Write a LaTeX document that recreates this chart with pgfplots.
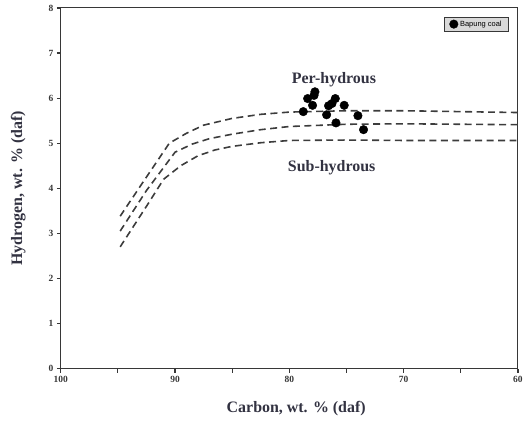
\documentclass[border=0pt]{standalone}
\usepackage{fontspec}
\setmainfont{Liberation Serif}
\newfontfamily\legfont{Liberation Sans}
\usepackage{pgfplots}
\pgfplotsset{compat=1.18}
\definecolor{framec}{RGB}{55,55,55}
\definecolor{dashc}{RGB}{60,60,60}
\definecolor{txtc}{RGB}{50,50,65}

\begin{document}
\begin{tikzpicture}
\begin{axis}[
    scale only axis,
    width=459pt, height=362pt,
    x dir=reverse,
    xmin=60, xmax=100, ymin=0, ymax=8,
    xtick={60,70,80,90,100},
    minor xtick={65,75,85,95},
    ytick={0,1,2,3,4,5,6,7,8},
    tick align=outside,
    xtick pos=bottom, ytick pos=left,
    major tick length=4pt, minor tick length=4pt,
    tick style={framec, line width=1.2pt},
    axis line style={framec, line width=1pt},
    /pgf/number format/assume math mode=true,
    ticklabel style={font=\fontsize{9.5}{10}\selectfont\bfseries, text=framec},
    xlabel={Carbon, wt. \% (daf)},
    ylabel={Hydrogen, wt. \% (daf)},
    label style={font=\fontsize{16}{18}\selectfont\bfseries, text=txtc},
    xlabel style={at={(axis description cs:0.515,-0.11)}, anchor=center},
    ylabel style={at={(axis description cs:-0.093,0.5)}, anchor=center},
    clip=false,
    legend style={at={(0.98,0.975)}, anchor=north east, fill=gray!30,
        draw=framec, font=\legfont\fontsize{7.5}{8}\selectfont,
        inner xsep=5pt, inner ysep=1.5pt},
    legend cell align=left,
]

% per-hydrous boundary (top)
\addplot[draw=dashc, line width=1.6pt, dash pattern=on 7pt off 4.5pt, forget plot]
    coordinates {(94.8,3.38)(92.5,4.25)(90.5,5.0)(89,5.22)(87.5,5.40)(85,5.55)
    (82.5,5.64)(80,5.69)(75,5.72)(70,5.72)(65,5.70)(60,5.68)};
% middle line
\addplot[draw=dashc, line width=1.6pt, dash pattern=on 7pt off 4.5pt, forget plot]
    coordinates {(94.8,3.05)(92.5,3.95)(90,4.8)(88.5,4.98)(87,5.1)(85,5.2)
    (82.5,5.3)(80,5.37)(75,5.42)(70,5.43)(65,5.42)(60,5.41)};
% sub-hydrous boundary (bottom)
\addplot[draw=dashc, line width=1.6pt, dash pattern=on 7pt off 4.5pt, forget plot]
    coordinates {(94.8,2.70)(92.5,3.6)(91,4.2)(89.5,4.5)(88,4.72)(86.5,4.85)
    (85,4.93)(82.5,5.01)(80,5.06)(75,5.07)(70,5.06)(60,5.06)};

\addplot[only marks, mark=*, mark size=4.3pt, black]
    coordinates {(77.76,6.14)(77.84,6.06)(78.4,5.99)(77.97,5.84)(78.78,5.70)
    (76.74,5.63)(76.57,5.83)(76.27,5.88)(75.98,5.99)(75.2,5.84)
    (75.92,5.45)(74.0,5.61)(73.51,5.30)};
\addlegendentry{Bapung coal}

\node[font=\fontsize{16}{18}\selectfont\bfseries, text=txtc] at (axis cs:76.1,6.41) {Per-hydrous};
\node[font=\fontsize{16}{18}\selectfont\bfseries, text=txtc] at (axis cs:76.3,4.46) {Sub-hydrous};

\path (axis description cs:0,0) +(-61pt,-56pt) (axis description cs:1,1) +(5pt,8pt);
\end{axis}
\end{tikzpicture}
\end{document}
